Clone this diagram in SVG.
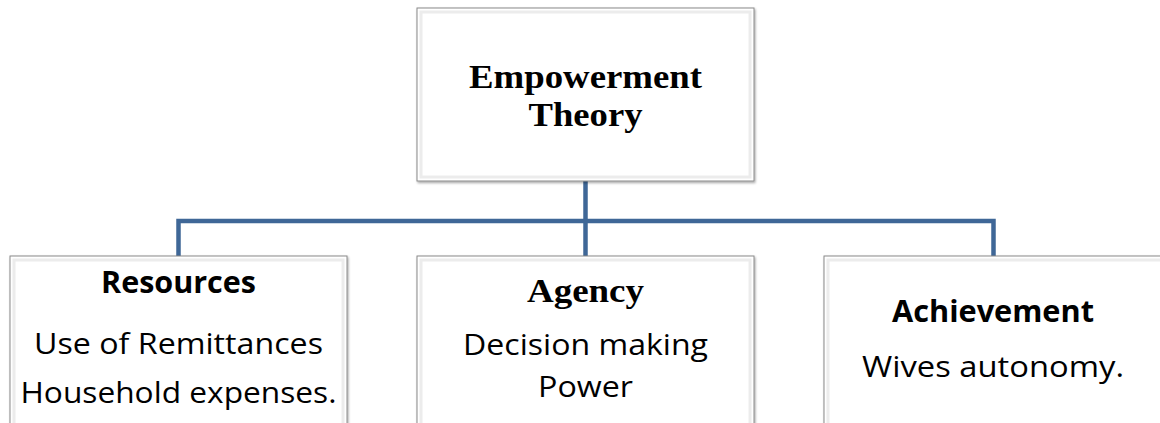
<svg xmlns="http://www.w3.org/2000/svg" width="1160" height="423" viewBox="0 0 1160 423">
  <defs>
    <filter id="shadow" x="-5%" y="-5%" width="110%" height="110%">
      <feDropShadow dx="1" dy="1.5" stdDeviation="1" flood-color="#000" flood-opacity="0.35"/>
    </filter>
    <style>
      .box { fill: #ffffff; stroke: #8a8a8a; stroke-width: 1; filter: url(#shadow); }
      .inner { fill: none; stroke: #ececec; stroke-width: 3; }
      .link { fill: none; stroke: #3f6797; stroke-width: 4.5; stroke-linejoin: miter; }
      .serif { font-family: "Liberation Serif", "Times New Roman", serif; font-weight: bold; font-size: 33.5px; fill: #000; }
      .sans { font-family: "Open Sans", "Noto Sans", sans-serif; font-size: 30px; fill: #000; }
      .sans-b { font-family: "Open Sans", "Noto Sans", sans-serif; font-weight: bold; font-size: 30px; fill: #000; }
    </style>
  </defs>

  <rect width="1160" height="423" fill="#ffffff"/>

  <!-- connectors -->
  <g id="connectors">
    <path class="link" d="M585.5 181 V256"/>
    <path class="link" d="M178.5 256 V221 H993.5 V256"/>
  </g>

  <!-- root node -->
  <g id="node-empowerment">
    <rect class="box" x="417" y="8" width="337" height="173"/>
    <rect class="inner" x="421" y="12" width="329" height="165"/>
    <text class="serif" x="585.5" y="88" text-anchor="middle" textLength="233" lengthAdjust="spacingAndGlyphs">Empowerment</text>
    <text class="serif" x="585.5" y="126" text-anchor="middle" textLength="114" lengthAdjust="spacingAndGlyphs">Theory</text>
  </g>

  <!-- child nodes -->
  <g id="node-resources">
    <rect class="box" x="10" y="256" width="337" height="180"/>
    <rect class="inner" x="14" y="260" width="329" height="180"/>
    <text class="sans-b" x="178.5" y="293" text-anchor="middle" textLength="155" lengthAdjust="spacingAndGlyphs">Resources</text>
    <text class="sans" x="178.5" y="354" text-anchor="middle" textLength="289" lengthAdjust="spacingAndGlyphs">Use of Remittances</text>
    <text class="sans" x="178.5" y="403" text-anchor="middle" textLength="316" lengthAdjust="spacingAndGlyphs">Household expenses.</text>
  </g>

  <g id="node-agency">
    <rect class="box" x="417" y="256" width="337" height="180"/>
    <rect class="inner" x="421" y="260" width="329" height="180"/>
    <text class="serif" x="585.5" y="302" text-anchor="middle" textLength="117" lengthAdjust="spacingAndGlyphs">Agency</text>
    <text class="sans" x="585.5" y="355" text-anchor="middle" textLength="245" lengthAdjust="spacingAndGlyphs">Decision making</text>
    <text class="sans" x="585.5" y="397" text-anchor="middle" textLength="95" lengthAdjust="spacingAndGlyphs">Power</text>
  </g>

  <g id="node-achievement">
    <rect class="box" x="824" y="256" width="340" height="180"/>
    <rect class="inner" x="828" y="260" width="340" height="180"/>
    <text class="sans-b" x="993" y="322" text-anchor="middle" textLength="202" lengthAdjust="spacingAndGlyphs">Achievement</text>
    <text class="sans" x="993" y="377" text-anchor="middle" textLength="262" lengthAdjust="spacingAndGlyphs">Wives autonomy.</text>
  </g>
</svg>
